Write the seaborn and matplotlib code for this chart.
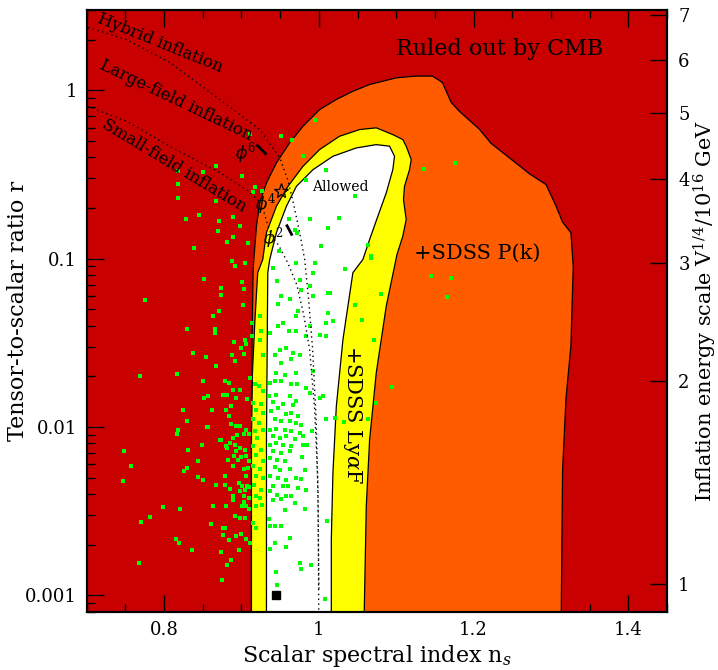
import matplotlib
matplotlib.use("Agg")
import matplotlib.pyplot as plt
from matplotlib.ticker import FixedLocator, FixedFormatter, MultipleLocator, LogLocator, NullFormatter, NullLocator
import seaborn as sns

# allowed regions (n_s, r)
cmb_ns = [0.9129, 0.9129, 0.9137, 0.915, 0.9159, 0.9194, 0.9236, 0.9323, 0.9452, 0.9623, 0.9795,
          1.001, 1.0226, 1.044, 1.0655, 1.10, 1.1258, 1.1468, 1.1597, 1.171, 1.1817, 1.2075,
          1.2226, 1.2548, 1.272, 1.2935, 1.3065, 1.315, 1.3258, 1.3288, 1.3258, 1.3194, 1.315, 1.3129]
cmb_r = [0.0005, 0.0084, 0.033, 0.0826, 0.0989, 0.156, 0.215, 0.282, 0.371, 0.488, 0.612,
         0.769, 0.882, 0.988, 1.083, 1.187, 1.216, 1.216, 1.113, 0.849, 0.75, 0.588,
         0.484, 0.37, 0.32, 0.276, 0.206, 0.165, 0.1425, 0.0897, 0.0306, 0.01475, 0.00553, 0.0005]

pk_ns = [0.9129, 0.9129, 0.9142, 0.9172, 0.921, 0.9275, 0.9323, 0.9452, 0.9601, 0.9795, 1.001,
         1.0268, 1.0526, 1.0742, 1.0956, 1.1085, 1.1129, 1.1194, 1.1172, 1.1107, 1.1094, 1.1129,
         1.1085, 1.101, 1.0871, 1.0742, 1.0656, 1.0613, 1.0578]
pk_r = [0.0005, 0.0084, 0.021, 0.0417, 0.0826, 0.0989, 0.143, 0.205, 0.269, 0.354, 0.445,
        0.534, 0.585, 0.599, 0.546, 0.51, 0.466, 0.388, 0.338, 0.269, 0.2245, 0.171,
        0.136, 0.106, 0.0522, 0.021, 0.0084, 0.00338, 0.0005]

lya_ns = [0.9323, 0.9323, 0.9333, 0.934, 0.9365, 0.9452, 0.9581, 0.971, 0.9924, 1.0182, 1.0484,
          1.0742, 1.0914, 1.0978, 1.0956, 1.0871, 1.0763, 1.0656, 1.0569, 1.044, 1.0311, 1.0226,
          1.0182, 1.0161, 1.0161]
lya_r = [0.0005, 0.0084, 0.033, 0.0826, 0.0989, 0.143, 0.205, 0.269, 0.338, 0.406, 0.455,
         0.476, 0.466, 0.406, 0.338, 0.246, 0.179, 0.13, 0.0989, 0.0826, 0.033, 0.0133,
         0.00536, 0.00214, 0.0005]

# model class boundaries (dotted)
hyb_ns = [0.7017, 0.7516, 0.8075, 0.872, 0.9236, 0.9494, 0.9597, 0.9675, 0.9752, 0.9817, 0.9868,
          0.992, 0.9965, 0.9991, 1.0001]
hyb_r = [2.36, 2.005, 1.463, 0.882, 0.585, 0.399, 0.295, 0.21, 0.143, 0.0988, 0.0571,
         0.0288, 0.0111, 0.0037, 0.0005]
sf_ns = [0.7017, 0.7516, 0.8075, 0.872, 0.9065, 0.9258, 0.9326, 0.9391, 0.9481, 0.9597, 0.9714,
         0.9804, 0.9881, 0.9946, 0.9985, 1.0001, 1.0001]
sf_r = [0.801, 0.655, 0.4635, 0.325, 0.257, 0.213, 0.166, 0.137, 0.12, 0.0948, 0.0702,
        0.0466, 0.0288, 0.0127, 0.00487, 0.00163, 0.0005]

# phi^p predictions
phi6_ns = [0.9194, 0.9323]
phi6_r = [0.476, 0.4155]
phi2_ns = [0.958, 0.9656]
phi2_r = [0.1596, 0.1372]
star_ns, star_r = 0.9516, 0.2515
square_ns, square_r = 0.9445, 0.001

# Monte Carlo models (green points)
dots = [
    (0.9107, 0.551), (0.9516, 0.539), (0.9653, 0.510), (0.9946, 0.671), (0.9795, 0.406),
    (0.8182, 0.331), (0.8497, 0.328), (0.8668, 0.354), (0.9013, 0.312), (0.8182, 0.278),
    (0.8182, 0.228), (0.8677, 0.219), (0.9150, 0.248), (0.9271, 0.254), (0.9181, 0.266),
    (0.8281, 0.172), (0.8707, 0.168), (0.8892, 0.177), (0.8978, 0.156), (0.8698, 0.146),
    (0.8892, 0.135), (0.8384, 0.116), (0.9085, 0.124), (0.9839, 0.295), (0.8453, 0.181),
    (0.8819, 0.126), (1.0097, 0.338), (1.0462, 0.237), (0.9614, 0.171), (0.9717, 0.142),
    (1.0259, 0.175), (1.0117, 0.152), (1.0032, 0.1185), (1.0633, 0.121), (1.0668, 0.101),
    (1.1353, 0.343), (1.1765, 0.369), (0.9485, 0.111), (1.1452, 0.0794), (1.1710, 0.0767),
    (1.1662, 0.0589),
    (0.8878, 0.0965), (0.8922, 0.0901), (0.9043, 0.0944), (0.8513, 0.0759), (0.9008, 0.0728),
    (0.9033, 0.0662), (0.8729, 0.0671), (0.8733, 0.0612), (0.7752, 0.0571), (0.9021, 0.0529),
    (0.8707, 0.0487), (0.8630, 0.0455), (0.8290, 0.0383), (0.8659, 0.0384), (0.8655, 0.0362),
    (0.8901, 0.0319), (0.9043, 0.0327), (0.9055, 0.0313), (0.8995, 0.0295), (0.8372, 0.0276),
    (0.8536, 0.0261), (0.8878, 0.0269), (0.9033, 0.0273), (0.7688, 0.0200), (0.8161, 0.0207),
    (0.8668, 0.0229), (0.8914, 0.0246), (0.8497, 0.0189), (0.8565, 0.0152), (0.8513, 0.0149),
    (0.8247, 0.0126), (0.8613, 0.0127), (0.8290, 0.0108), (0.8569, 0.0100), (0.9107, 0.0196),
    (0.9408, 0.0882), (0.9464, 0.0734), (0.9516, 0.0603), (0.9632, 0.0577), (0.9477, 0.0541),
    (0.9752, 0.0751), (0.9774, 0.0655), (0.9881, 0.0686), (0.9923, 0.0598), (0.9692, 0.1475),
    (0.9881, 0.171), (0.9946, 0.0944), (0.9730, 0.0487), (0.9709, 0.0455), (1.0117, 0.0476),
    (1.0117, 0.0626), (0.9536, 0.0416), (0.9472, 0.0397), (0.9614, 0.0370), (0.9365, 0.0362),
    (0.9709, 0.0370), (0.9881, 0.0397), (0.9839, 0.0346), (1.0010, 0.0354), (1.0097, 0.0346),
    (0.9580, 0.0295), (0.9494, 0.0288), (0.9666, 0.0276), (0.9430, 0.0269), (0.9645, 0.0252),
    (0.9752, 0.0269), (0.9516, 0.0240), (0.9279, 0.0269), (0.9236, 0.0331), (0.9258, 0.0370),
    (0.9236, 0.0455), (0.9142, 0.0416), (0.9137, 0.0346), (0.9452, 0.0210), (0.9559, 0.0205),
    (0.9709, 0.0210), (0.9923, 0.0214), (1.0097, 0.0416), (1.0148, 0.0626), (1.0333, 0.087),
    (1.0462, 0.0534), (1.0561, 0.0435), (1.0677, 0.1033), (1.0806, 0.0618), (1.0707, 0.0331),
    (1.0320, 0.0107), (1.0948, 0.0172), (1.0742, 0.0139), (1.0634, 0.0111), (1.0182, 0.0425),
    (0.9929, 0.0823), (0.9710, 0.0944),
    (0.8785, 0.0187), (0.8840, 0.0183), (0.8884, 0.0165), (0.8814, 0.0156), (0.8755, 0.0154),
    (0.8935, 0.0149), (0.8978, 0.0167), (0.9072, 0.0147), (0.8862, 0.0134), (0.8806, 0.0127),
    (0.8840, 0.0117), (0.8926, 0.0102), (0.8987, 0.0102), (0.8871, 0.0104), (0.9064, 0.00965),
    (0.9029, 0.0091), (0.9098, 0.00915), (0.8943, 0.0090), (0.8891, 0.0086), (0.8741, 0.0084),
    (0.8922, 0.00786), (0.8858, 0.00805), (0.8814, 0.0075), (0.8978, 0.0075), (0.9043, 0.00734),
    (0.8926, 0.00724), (0.8901, 0.00676), (0.9000, 0.00664), (0.9055, 0.00676), (0.8827, 0.0064),
    (0.8956, 0.0064), (0.9098, 0.00625), (0.9029, 0.00564), (0.8884, 0.00584), (0.8785, 0.0051),
    (0.9064, 0.00514), (0.8969, 0.00466), (0.9008, 0.00449), (0.8785, 0.00455), (0.8849, 0.00429),
    (0.9072, 0.00444), (0.9098, 0.0044), (0.9051, 0.00425), (0.8987, 0.00415), (0.9029, 0.00388),
    (0.9094, 0.00379), (0.8891, 0.0037), (0.9029, 0.00357), (0.9055, 0.00341), (0.9008, 0.00338),
    (0.9098, 0.00326), (0.8914, 0.00298), (0.8987, 0.00288), (0.9043, 0.00288), (0.8785, 0.00252),
    (0.8759, 0.00229), (0.8935, 0.00224), (0.8840, 0.00214), (0.9000, 0.00233), (0.9064, 0.00216),
    (0.9116, 0.00205), (0.8741, 0.0018), (0.8871, 0.00163), (0.8814, 0.00152),
    (0.9172, 0.0179), (0.9227, 0.0175), (0.9279, 0.0163), (0.9150, 0.0139), (0.9258, 0.0138),
    (0.9194, 0.0127), (0.9279, 0.0121), (0.9150, 0.0111), (0.9227, 0.0106), (0.9172, 0.00943),
    (0.9279, 0.00965), (0.9201, 0.0086), (0.9150, 0.00768), (0.9258, 0.00734), (0.9185, 0.00686),
    (0.9279, 0.00625), (0.9150, 0.00584), (0.9236, 0.00564), (0.9185, 0.0051), (0.9279, 0.00498),
    (0.9162, 0.00455), (0.9258, 0.00425), (0.9194, 0.00388), (0.9236, 0.00379), (0.9271, 0.00346),
    (0.9185, 0.00338), (0.9150, 0.00269), (0.9185, 0.00252),
    (0.9365, 0.0183), (0.9430, 0.0187), (0.9516, 0.0189), (0.9645, 0.0181), (0.9717, 0.0179),
    (0.9839, 0.0171), (0.9881, 0.0159), (0.9356, 0.0152), (0.9452, 0.0156), (0.9623, 0.0152),
    (0.9408, 0.0140), (0.9536, 0.0138), (0.9666, 0.0136), (0.9709, 0.0142), (0.9387, 0.0124),
    (0.9472, 0.0130), (0.9580, 0.0119), (0.9645, 0.0121), (0.9730, 0.0116), (0.9430, 0.0111),
    (0.9516, 0.0108), (0.9623, 0.0108), (0.9701, 0.0106), (0.9774, 0.0103), (0.9365, 0.00965),
    (0.9452, 0.00974), (0.9559, 0.00965), (0.9645, 0.00943), (0.9752, 0.00922), (0.9916, 0.00943),
    (0.9408, 0.0088), (0.9494, 0.0086), (0.9580, 0.0088), (0.9688, 0.0085), (0.9795, 0.0088),
    (0.9365, 0.00786), (0.9452, 0.00805), (0.9536, 0.00786), (0.9645, 0.00768), (0.9795, 0.00786),
    (0.9846, 0.00786), (0.9408, 0.00717), (0.9516, 0.00702), (0.9623, 0.00717), (0.9787, 0.00664),
    (0.9365, 0.00655), (0.9459, 0.0064), (0.9559, 0.00625), (0.9430, 0.00579), (0.9494, 0.00558),
    (0.9632, 0.00564), (0.9817, 0.00558), (0.9365, 0.0051), (0.9472, 0.00498), (0.9580, 0.00487),
    (0.9709, 0.00498), (0.9764, 0.00492), (0.9408, 0.00444), (0.9536, 0.00449), (0.9601, 0.00444),
    (0.9730, 0.00435), (0.9839, 0.00425), (0.9365, 0.00415), (0.9459, 0.00397), (0.9580, 0.00391),
    (0.9645, 0.00388), (0.9408, 0.0037), (0.9516, 0.00374), (0.9688, 0.00354), (0.9559, 0.00323),
    (0.9817, 0.00326), (0.9430, 0.00257), (0.9365, 0.00257), (0.9516, 0.00257), (0.9356, 0.00284),
    (1.0104, 0.00275), (0.9623, 0.00219), (0.9430, 0.00205), (0.9572, 0.00195), (0.9365, 0.00189),
    (0.9752, 0.00156), (0.9765, 0.00144), (0.9903, 0.00152), (0.9443, 0.00137), (1.0204, 0.0113),
    (1.0053, 0.0152), (1.0010, 0.0149), (1.0088, 0.0111),
    (0.7481, 0.00717), (0.7568, 0.0059), (0.7465, 0.0048), (0.8182, 0.00965), (0.8169, 0.00914),
    (0.8548, 0.00996), (0.8311, 0.00734), (0.8484, 0.00779), (0.8720, 0.00834), (0.8806, 0.00768),
    (0.8290, 0.00571), (0.8259, 0.00546), (0.8432, 0.00625), (0.8440, 0.00502), (0.8505, 0.00487),
    (0.8677, 0.00455), (0.8891, 0.00388), (0.8204, 0.00327), (0.7981, 0.00333), (0.8634, 0.00338),
    (0.8798, 0.00338), (0.7817, 0.00292), (0.7701, 0.00274), (0.8600, 0.00267), (0.8763, 0.00252),
    (0.8152, 0.00216), (0.8191, 0.00206), (0.8363, 0.00185), (0.8969, 0.00185), (0.7679, 0.00156),
    (0.8742, 0.00124), (0.9085, 0.00571), (0.9460, 0.00116), (1.0075, 0.00095),
]
dots_ns = [d[0] for d in dots]
dots_r = [d[1] for d in dots]

x_ticks = [0.8, 1.0, 1.2, 1.4]
x_labels = ["0.8", "1", "1.2", "1.4"]
y_ticks = [0.001, 0.01, 0.1, 1]
y_labels = ["0.001", "0.01", "0.1", "1"]
v_ticks = [1, 2, 3, 4, 5, 6, 7]
R0 = 0.00117  # r where V^1/4 = 1e16 GeV on the right axis
XLIM = (0.7, 1.45)
YLIM = (0.0008, 3.0)

RED = "#c80000"
ORANGE = "#ff5c00"
YELLOW = "#ffff00"
GREEN = "#00ff00"

sns.set_theme(style="ticks")
plt.rcParams["font.family"] = ["DejaVu Serif"]
plt.rcParams["mathtext.fontset"] = "dejavuserif"
plt.rcParams["text.color"] = "black"
plt.rcParams["axes.labelcolor"] = "black"
plt.rcParams["xtick.color"] = "black"
plt.rcParams["ytick.color"] = "black"

fig = plt.figure(figsize=(7.18, 6.70), dpi=100)
ax = fig.add_axes([0.1208, 0.087, 0.8082, 0.898])
ax.set_facecolor(RED)

ax.fill(cmb_ns, cmb_r, facecolor=ORANGE, edgecolor="black", lw=0.9, zorder=1)
ax.fill(pk_ns, pk_r, facecolor=YELLOW, edgecolor="black", lw=0.9, zorder=1.1)
ax.fill(lya_ns, lya_r, facecolor="white", edgecolor="black", lw=0.9, zorder=1.2)

sns.scatterplot(x=dots_ns, y=dots_r, marker="s", s=6, color=GREEN, linewidth=0, ax=ax, zorder=2)

sns.lineplot(x=hyb_ns, y=hyb_r, sort=False, color="black", lw=1.0, linestyle=(0, (1, 2.5)), ax=ax, zorder=3)
sns.lineplot(x=sf_ns, y=sf_r, sort=False, color="black", lw=1.0, linestyle=(0, (1, 2.5)), ax=ax, zorder=3)
ax.plot(phi6_ns, phi6_r, color="black", lw=2, solid_capstyle="butt", zorder=4)
ax.plot(phi2_ns, phi2_r, color="black", lw=2, solid_capstyle="butt", zorder=4)
ax.plot([star_ns], [star_r], marker="*", ms=11, mfc="none", mec="black", mew=0.9, zorder=4)
ax.plot([square_ns], [square_r], marker="s", ms=6, color="black", zorder=4)

ax.text(0.8914, 0.425, r"$\phi^6$", fontsize=12, ha="left", va="center", zorder=5)
ax.text(0.9172, 0.21, r"$\phi^4$", fontsize=12, ha="left", va="center", zorder=5)
ax.text(0.9281, 0.1335, r"$\phi^2$", fontsize=12, ha="left", va="center", zorder=5)

ax.text(1.2333, 1.75, "Ruled out by CMB", fontsize=16, ha="center", va="center")
ax.text(1.2049, 0.1072, "+SDSS P(k)", fontsize=15, ha="center", va="center")
ax.text(1.044, 0.01185, r"+SDSS Ly$\alpha$F", fontsize=15, ha="center", va="center", rotation=-90)
ax.text(1.0281, 0.268, "Allowed", fontsize=10, ha="center", va="center")
ax.text(0.7946, 1.92, "Hybrid inflation", fontsize=12, ha="center", va="center", rotation=-22,
        rotation_mode="anchor")
ax.text(0.8153, 0.87, "Large-field inflation", fontsize=12, ha="center", va="center", rotation=-25.5,
        rotation_mode="anchor")
ax.text(0.8127, 0.357, "Small-field inflation", fontsize=12, ha="center", va="center", rotation=-31,
        rotation_mode="anchor")

ax.set_yscale("log")
ax.set_xlim(*XLIM)
ax.set_ylim(*YLIM)
ax.xaxis.set_major_locator(FixedLocator(x_ticks))
ax.xaxis.set_major_formatter(FixedFormatter(x_labels))
ax.xaxis.set_minor_locator(MultipleLocator(0.05))
ax.yaxis.set_major_locator(FixedLocator(y_ticks))
ax.yaxis.set_major_formatter(FixedFormatter(y_labels))
ax.yaxis.set_minor_locator(LogLocator(base=10, subs=range(2, 10)))
ax.yaxis.set_minor_formatter(NullFormatter())
ax.tick_params(which="both", direction="in", top=True, right=False, colors="black", labelsize=13,
               width=1.0)
ax.tick_params(which="major", length=12, pad=7)
ax.tick_params(which="minor", length=6)
for s in ax.spines.values():
    s.set_linewidth(1.5)
    s.set_color("black")
ax.set_xlabel(r"Scalar spectral index n$_s$", fontsize=16, va="center", color="black")
ax.xaxis.set_label_coords(0.5, -0.074)
ax.set_ylabel("Tensor-to-scalar ratio r", fontsize=16, va="center", color="black")
ax.yaxis.set_label_coords(-0.118, 0.5)

ax2 = ax.twinx()
ax2.set_yscale("log")
ax2.set_ylim((YLIM[0] / R0) ** 0.25, (YLIM[1] / R0) ** 0.25)
ax2.yaxis.set_major_locator(FixedLocator(v_ticks))
ax2.yaxis.set_major_formatter(FixedFormatter([str(v) for v in v_ticks]))
ax2.yaxis.set_minor_locator(NullLocator())
ax2.tick_params(axis="y", direction="in", length=12, width=1.0, labelsize=13, pad=8, colors="black")
ax2.set_ylabel(r"Inflation energy scale V$^{1/4}$/10$^{16}$ GeV", fontsize=15, va="center",
               color="black")
ax2.yaxis.set_label_coords(1.066, 0.5)
for s in ax2.spines.values():
    s.set_linewidth(1.5)
    s.set_color("black")
ax2.grid(False)

fig.savefig("out.png", dpi=100)
